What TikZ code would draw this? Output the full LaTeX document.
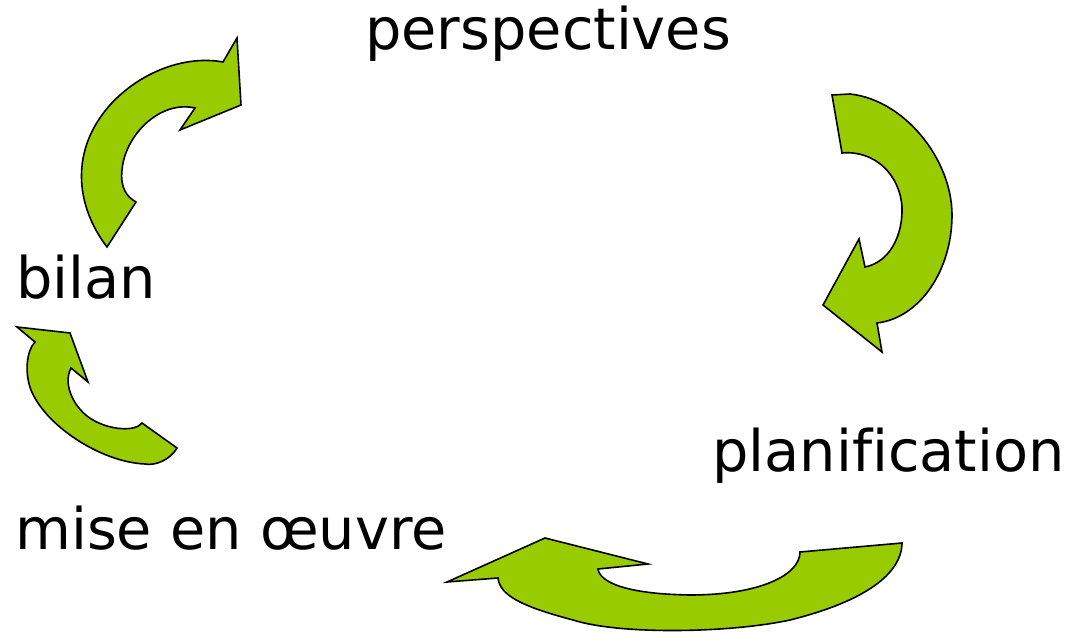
\documentclass[tikz,border=0pt]{standalone}
\usepackage{fontspec}
\setmainfont[Ligatures={NoCommon}]{DejaVu Sans}
\definecolor{arrowgreen}{HTML}{99CC00}
\begin{document}
\begin{tikzpicture}[x=0.75pt,y=-0.75pt,
  bigarrow/.style={fill=arrowgreen,draw=black,line width=1.2pt,line join=miter},
  label/.style={anchor=base west,inner sep=0pt,font=\fontsize{43}{50}\selectfont}]
\useasboundingbox (0,0) rectangle (1068,634);
% labels
\node[label] (persp) at (365,50) {perspectives};
\node[label] (bilan) at (16,299) {bilan};
\node[label] (plan) at (712,472) {planification};
\node[label] (mise) at (15,550) {mise en œuvre};
% top-left arrow (bilan -> perspectives)
\path[bigarrow] (107,247) .. controls (75,205) and (70,150) .. (110,105)
  .. controls (140,72) and (185,55) .. (223,62)
  -- (237,38) -- (241,105) -- (180,130) -- (195,108)
  .. controls (160,100) and (125,135) .. (122,170)
  .. controls (120,188) and (127,197) .. (136,202) -- cycle;
% top-right arrow (perspectives -> planification)
\path[bigarrow] (832,95) -- (850,94)
  .. controls (905,100) and (952,160) .. (952,215)
  .. controls (952,270) and (920,318) .. (877,323)
  -- (882,352) -- (823,305) -- (859,239) -- (865,267)
  .. controls (890,262) and (903,235) .. (902,207)
  .. controls (900,175) and (875,150) .. (842,153) -- cycle;
% bottom arrow (planification -> mise en oeuvre)
\path[bigarrow] (902,543) .. controls (902,560) and (890,595) .. (790,620)
  .. controls (730,633) and (620,635) .. (573,620)
  .. controls (520,606) and (500,595) .. (498,578)
  -- (447,582) -- (545,538) -- (648,564) -- (598,569)
  .. controls (600,582) and (625,594) .. (690,595)
  .. controls (760,595) and (800,575) .. (800,552) -- cycle;
% bottom-left arrow (mise en oeuvre -> bilan)
\path[bigarrow] (177,448) .. controls (170,460) and (155,466) .. (145,464)
  .. controls (100,462) and (45,425) .. (31,390)
  .. controls (24,372) and (27,350) .. (35,342)
  -- (17,327) -- (70,333) -- (88,382) -- (71,368)
  .. controls (62,385) and (75,410) .. (93,420)
  .. controls (110,430) and (135,432) .. (142,423) -- cycle;
\end{tikzpicture}
\end{document}
